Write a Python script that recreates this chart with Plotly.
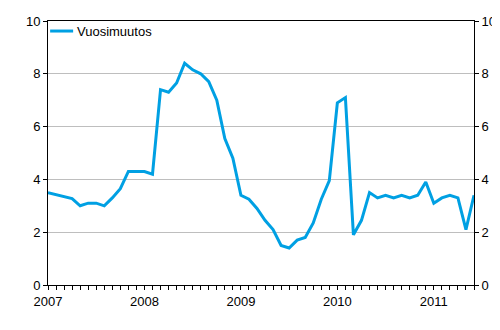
import plotly.graph_objects as go

series_name = "Vuosimuutos"
year_labels = ["2007", "2008", "2009", "2010", "2011"]
# Monthly values, Jan 2007 .. Jun 2011
values = [3.5, 3.43, 3.35, 3.27, 3.0, 3.1, 3.1, 3.0, 3.3, 3.65,
          4.3, 4.3, 4.3, 4.2, 7.4, 7.3, 7.65, 8.4, 8.15, 8.0,
          7.7, 7.0, 5.55, 4.8, 3.4, 3.25, 2.9, 2.45, 2.1, 1.5,
          1.4, 1.7, 1.8, 2.35, 3.25, 3.95, 6.9, 7.1, 1.9, 2.45,
          3.5, 3.3, 3.4, 3.3, 3.4, 3.3, 3.4, 3.9, 3.1, 3.3,
          3.4, 3.3, 2.1, 3.4]
y_ticks = [0, 2, 4, 6, 8, 10]

months = list(range(len(values)))
tick_text = [year_labels[i // 12] if i % 12 == 0 else "" for i in months]

line_color = "#00A0E3"
font = dict(family="Liberation Sans, Arial, sans-serif", size=13, color="#000000")

fig = go.Figure()
fig.add_trace(go.Scatter(x=months, y=values, mode="lines", name=series_name,
                         line=dict(color=line_color, width=3), showlegend=False))
fig.add_trace(go.Scatter(x=[0], y=[None], yaxis="y2", showlegend=False, hoverinfo="skip"))

# page body has an 8px default margin; size the figure to compensate
fig.update_layout(
    width=492, height=322,
    margin=dict(l=40, r=26, t=13, b=45),
    paper_bgcolor="white", plot_bgcolor="white",
    font=font,
    xaxis=dict(range=[0, len(values) - 1], tickvals=months, ticktext=tick_text,
               ticks="outside", ticklen=4, tickcolor="black", tickwidth=1,
               showline=True, linecolor="black", linewidth=1, mirror=True,
               showgrid=False, zeroline=False, tickangle=0, tickfont=font,
               automargin=False),
    yaxis=dict(range=[0, 10], tickvals=y_ticks, ticks="outside", ticklen=4,
               tickcolor="black", showline=True, linecolor="black", linewidth=1,
               showgrid=True, gridcolor="#BEBEBE", gridwidth=1, zeroline=False,
               tickfont=font, automargin=False),
    yaxis2=dict(range=[0, 10], tickvals=y_ticks, ticks="outside", ticklen=4,
                tickcolor="black", overlaying="y", side="right", showline=True,
                linecolor="black", linewidth=1, showgrid=False, zeroline=False,
                tickfont=font, automargin=False),
)

# legend drawn manually
fig.add_shape(type="line", xref="paper", yref="paper", x0=0.005, x1=0.059,
              y0=0.962, y1=0.962, line=dict(color=line_color, width=3))
fig.add_annotation(xref="paper", yref="paper", x=0.063, y=0.962, text=series_name,
                   showarrow=False, xanchor="left", yanchor="middle", font=font)

fig.write_html("out.html")
